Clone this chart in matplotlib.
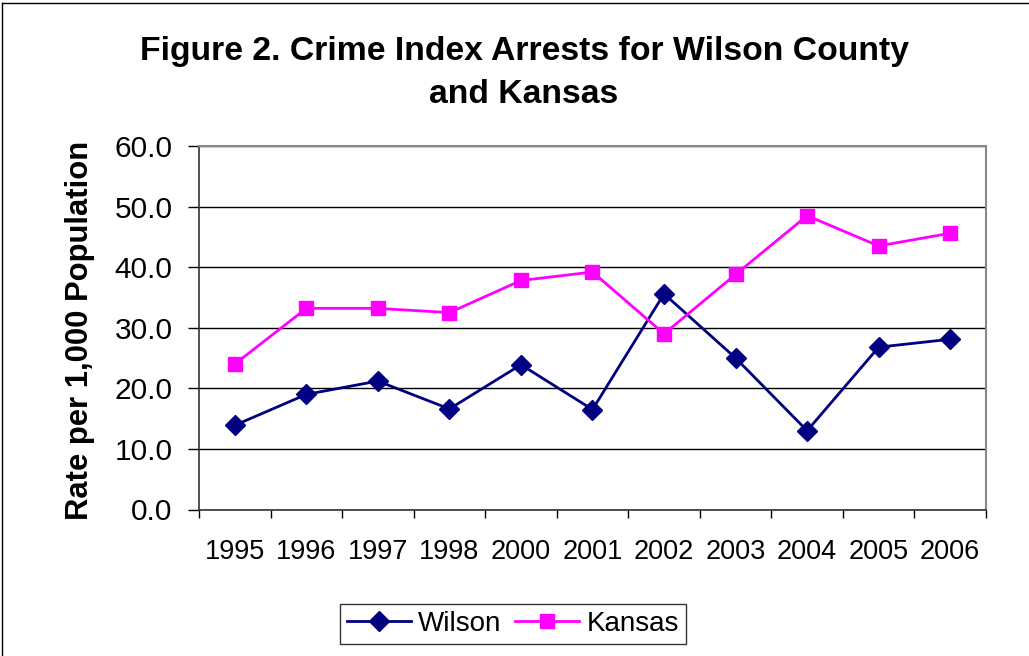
import matplotlib
matplotlib.use("Agg")
import matplotlib.pyplot as plt
from matplotlib.lines import Line2D
from matplotlib.ticker import FixedLocator, NullFormatter

plt.rcParams["font.family"] = ["Liberation Sans", "DejaVu Sans"]

years = ["1995", "1996", "1997", "1998", "2000", "2001",
         "2002", "2003", "2004", "2005", "2006"]
wilson = [13.9, 19.0, 21.2, 16.6, 23.9, 16.5, 35.6, 25.0, 13.0, 26.8, 28.1]
kansas = [24.0, 33.2, 33.2, 32.5, 37.8, 39.2, 29.0, 38.8, 48.5, 43.5, 45.6]
yticks = [0, 10, 20, 30, 40, 50, 60]

fig = plt.figure(figsize=(10.29, 6.56), dpi=100)
ax = fig.add_axes([199 / 1029, 1 - 509.5 / 656, 787 / 1029, 363.5 / 656])

x = list(range(len(years)))
ax.plot(x, wilson, color="#000080", lw=2, marker="D", ms=10.5,
        mec="#000080", mfc="#000080", label="Wilson", zorder=3)
ax.plot(x, kansas, color="#FF00FF", lw=2, marker="s", ms=10,
        mec="#FF00FF", mfc="#FF00FF", label="Kansas", zorder=3)

ax.set_xlim(-0.5, len(years) - 0.5)
ax.set_ylim(0, 60)
ax.set_yticks(yticks)
ax.set_yticklabels([f"{v:.1f}" for v in yticks], fontsize=21.5)
ax.yaxis.grid(True, color="black", lw=1)
ax.set_axisbelow(True)

ax.set_xticks(x)
ax.set_xticklabels(years, fontsize=19.5)
ax.xaxis.set_minor_locator(FixedLocator([i - 0.5 for i in range(len(years) + 1)]))
ax.xaxis.set_minor_formatter(NullFormatter())
ax.tick_params(axis="x", which="major", length=0, pad=21)
ax.tick_params(axis="x", which="minor", length=6, width=1, color="black")
ax.tick_params(axis="y", length=8, width=1, color="black", pad=11)

for side in ["left", "bottom"]:
    ax.spines[side].set_color("#333333")
    ax.spines[side].set_linewidth(1.2)
for side in ["right", "top"]:
    ax.spines[side].set_color("#888888")
    ax.spines[side].set_linewidth(1.5)

fig.text(524 / 1029, 1 - 73 / 656,
         "Figure 2. Crime Index Arrests for Wilson County\nand Kansas",
         ha="center", va="center", fontsize=24.3, fontweight="bold",
         linespacing=1.5)
fig.text(80 / 1029, 1 - 330 / 656, "Rate per 1,000 Population",
         rotation=90, ha="center", va="center", fontsize=22.3, fontweight="bold")

leg = fig.legend(loc="center", bbox_to_anchor=(513 / 1029, 1 - 624 / 656),
                 ncol=2, fontsize=20, frameon=True, fancybox=False,
                 handlelength=2.3, handletextpad=0.25, columnspacing=0.5,
                 borderpad=0.25, borderaxespad=0)
leg.get_frame().set_edgecolor("black")
leg.get_frame().set_linewidth(1)

# outer chart frame (left and top edges visible)
fig.add_artist(Line2D([2 / 1029, 2 / 1029], [0, 1 - 3 / 656],
                      transform=fig.transFigure, color="black", lw=1))
fig.add_artist(Line2D([2 / 1029, 1], [1 - 3 / 656, 1 - 3 / 656],
                      transform=fig.transFigure, color="black", lw=1))

fig.savefig("out.png", dpi=100)
